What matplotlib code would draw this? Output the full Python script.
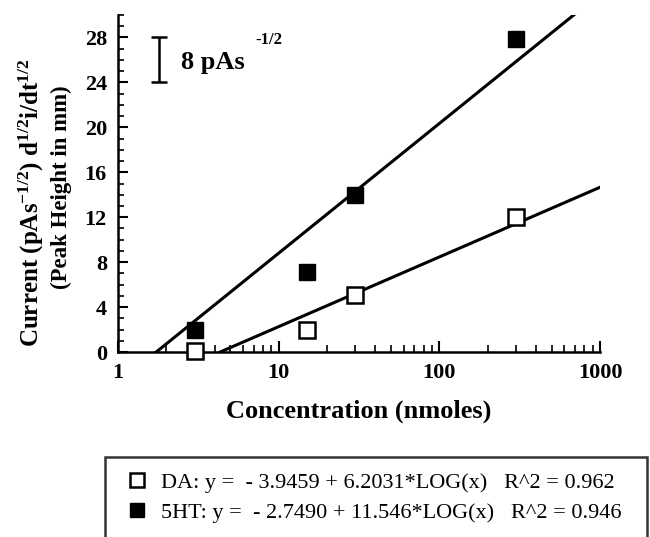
import numpy as np
import matplotlib
matplotlib.use("Agg")
import matplotlib.pyplot as plt
from matplotlib.ticker import FixedLocator, NullFormatter

plt.rcParams['font.family'] = ['Liberation Serif', 'DejaVu Serif']
plt.rcParams['mathtext.fontset'] = 'custom'
plt.rcParams['mathtext.rm'] = 'Liberation Serif:bold'
plt.rcParams['mathtext.bf'] = 'Liberation Serif:bold'
plt.rcParams['mathtext.default'] = 'bf'

# data
conc = [3, 15, 30, 300]
da_vals = [0.1, 2.0, 5.1, 12.0]
ht_vals = [2.0, 7.1, 14.0, 27.9]

# fit coefficients from the legend
da_fit = (-3.9459, 6.2031)
ht_fit = (-2.7490, 11.546)
da_label = "DA: y =  - 3.9459 + 6.2031*LOG(x)   R^2 = 0.962"
ht_label = "5HT: y =  - 2.7490 + 11.546*LOG(x)   R^2 = 0.946"

y_ticks = [0, 4, 8, 12, 16, 20, 24, 28]


def fit_line(a, b, x_end):
    x0 = 10 ** (-a / b)
    xs = np.logspace(np.log10(x0), np.log10(x_end), 50)
    return xs, a + b * np.log10(xs)


fig = plt.figure(figsize=(6.5, 5.37), dpi=100)
ax = fig.add_axes([118 / 650, 1 - 352 / 537, 482 / 650, 337 / 537])

xs, ys = fit_line(*da_fit, 1000)
ax.plot(xs, ys, color='black', lw=2.2)
xs, ys = fit_line(*ht_fit, 1000)
ax.plot(xs, ys, color='black', lw=2.2)

h_da, = ax.plot(conc, da_vals, 's', ms=11, mfc='white', mec='black',
                mew=1.8, ls='none', clip_on=False, zorder=5)
h_ht, = ax.plot(conc, ht_vals, 's', ms=11, mfc='black', mec='black',
                ls='none', clip_on=False, zorder=5)

# scale bar
ax.errorbar([1.8], [26], yerr=[2], color='black', capsize=6, elinewidth=1.8,
            capthick=1.8)
ax.text(2.45, 25.8, "8 pAs", fontsize=19, fontweight='bold', va='center')
ax.text(7.2, 27.8, "-1/2", fontsize=12, fontweight='bold', va='center')

ax.set_xscale('log')
ax.set_xlim(1, 1000)
ax.set_ylim(0, 30)
ax.set_xticks([1, 10, 100, 1000])
ax.set_xticklabels(['1', '10', '100', '1000'])
ax.set_yticks(y_ticks)
ax.yaxis.set_minor_locator(FixedLocator(np.arange(0, 31, 1)))
ax.xaxis.set_minor_formatter(NullFormatter())

for side in ['top', 'right']:
    ax.spines[side].set_visible(False)
for side in ['left', 'bottom']:
    ax.spines[side].set_linewidth(1.8)

ax.tick_params(axis='y', which='major', direction='in', length=7, width=1.5,
               labelsize=16, pad=8)
ax.tick_params(axis='y', which='minor', direction='in', length=4, width=1.2)
ax.tick_params(axis='x', which='major', direction='in', length=8, width=1.5,
               labelsize=16, pad=8)
ax.tick_params(axis='x', which='minor', direction='in', length=5, width=1.2)
for lbl in ax.get_xticklabels() + ax.get_yticklabels():
    lbl.set_fontweight('bold')

ax.set_xlabel("Concentration (nmoles)", fontsize=19, fontweight='bold',
              labelpad=12)
fig.text(31 / 650, 1 - 203 / 537,
         r"Current (pAs$^{-1/2}$) d$^{1/2}$i/dt$^{1/2}$",
         rotation=90, fontsize=18, fontweight='bold', ha='center', va='center')
fig.text(61 / 650, 1 - 187 / 537, "(Peak Height in mm)",
         rotation=90, fontsize=16.5, fontweight='bold', ha='center', va='center')

leg = ax.legend([h_da, h_ht], [da_label, ht_label],
                bbox_to_anchor=(105 / 650, 0.0, 542 / 650, 1 - 457 / 537),
                bbox_transform=fig.transFigure, loc='upper left',
                mode='expand', fontsize=16, frameon=True, fancybox=False,
                edgecolor='black', borderpad=0.7, handlelength=1.5,
                handletextpad=0.3, labelspacing=0.4, borderaxespad=0)
leg.get_frame().set_linewidth(1.8)
for h in leg.legend_handles:
    h.set_markersize(10)

fig.savefig("out.png", dpi=100)
